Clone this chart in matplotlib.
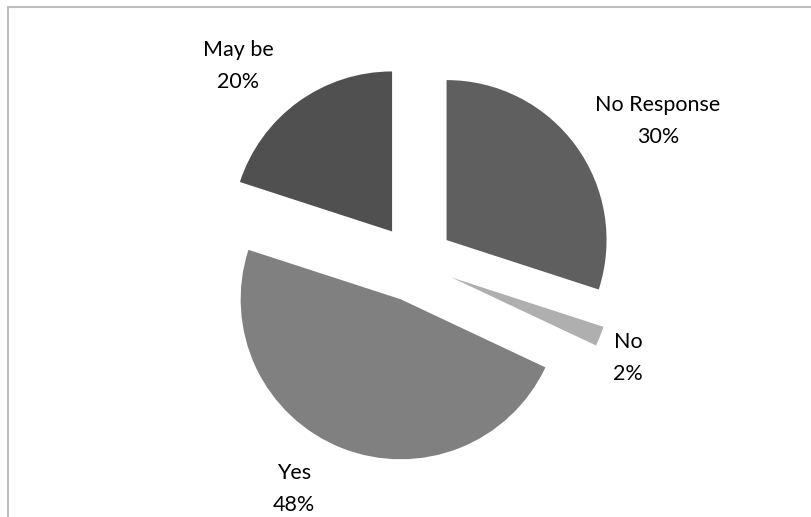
import matplotlib.pyplot as plt
from matplotlib.patches import Rectangle

# reponses au sondage, sens horaire depuis le haut
categories = ['No Response', 'No', 'Yes', 'May be']
pourcentages = [30, 2, 48, 20]
couleurs = ['#5f5f5f', '#afafaf', '#808080', '#505050']

# position des etiquettes (pixels, origine en bas a gauche)
pos_etiquettes = [(658, 396), (628, 159), (294, 28), (238, 451)]

W, H = 811, 517
fig = plt.figure(figsize=(W/100, H/100), dpi=100)
ax = fig.add_axes([0, 0, 1, 1])

centre = (415, H-263)
rayon = 160
ecart = 39  # decalage de chaque part (pixels)
ax.pie(pourcentages, colors=couleurs, startangle=90, counterclock=False,
       explode=[ecart]*4, radius=rayon, center=centre,
       wedgeprops=dict(linewidth=0))

for cat, p, (x, y) in zip(categories, pourcentages, pos_etiquettes):
    ax.text(x, y, cat + '\n' + str(p) + '%', ha='center', va='center',
            fontsize=15.5, family='Lato', linespacing=1.75, color='black')

# cadre du graphique
cadre = Rectangle((8, -20), W, H-7+20, fill=False, ec='#bdbdbd', lw=1.5)
ax.add_patch(cadre)

ax.set_xlim(0, W)
ax.set_ylim(0, H)
ax.set_aspect('equal')
ax.axis('off')
fig.savefig('out.png', dpi=100)
